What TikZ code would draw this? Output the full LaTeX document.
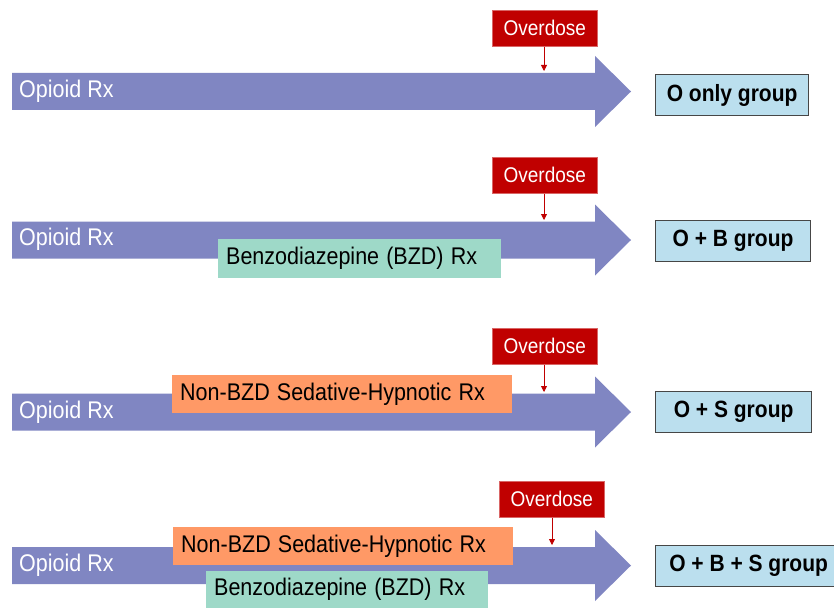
\documentclass[tikz,border=0pt]{standalone}
\usepackage{fontspec}
\setmainfont{Liberation Sans}
\usetikzlibrary{arrows.meta}
\definecolor{opioid}{RGB}{128,134,194}
\definecolor{odred}{RGB}{192,0,0}
\definecolor{bzd}{RGB}{158,217,200}
\definecolor{sed}{RGB}{255,153,102}
\definecolor{grp}{RGB}{187,223,238}
\definecolor{grpline}{RGB}{70,70,70}
\newcommand{\tall}[1]{\scalebox{1}[1.12]{#1}}
\tikzset{
  opbody/.style={fill=opioid},
  optext/.style={text=white, font=\fontsize{21.5}{24}\selectfont, anchor=west, inner sep=0pt},
  odbox/.style={fill=odred, draw=odred!60!white, line width=0.6pt, text=white, font=\fontsize{19}{22}\selectfont, minimum width=105pt, minimum height=36pt, inner sep=0pt, anchor=north west},
  odarrow/.style={draw=odred, line width=0.8pt, -{Triangle[length=6pt,width=6pt]}},
  rxbox/.style={font=\fontsize{21.5}{24}\selectfont, inner xsep=8pt, inner ysep=0pt, align=left, anchor=north west},
  bzdbox/.style={rxbox, fill=bzd},
  sedbox/.style={rxbox, fill=sed},
  grpbox/.style={fill=grp, draw=grpline, line width=1.2pt, font=\fontsize{21}{24}\selectfont\bfseries, inner sep=0pt, minimum height=41pt, anchor=north west}
}
\newcommand{\oparrow}[1]{%
  \fill[opbody] (12,#1-18.5) -- (595,#1-18.5) -- (595,#1-35.5) -- (631,#1) -- (595,#1+35.5) -- (595,#1+18.5) -- (12,#1+18.5) -- cycle;}
\begin{document}
\begin{tikzpicture}[x=1pt,y=-1pt]
\useasboundingbox (0,0) rectangle (834,607);
% Row 1
\oparrow{91.5}
\node[optext] (op1) at (19,91) {\tall{Opioid Rx}};
\node[odbox] (od1) at (492,10) {\tall{Overdose}};
\coordinate (t1) at (544,71);
\draw[odarrow] (od1.south -| t1) -- (t1);
\node[grpbox, minimum width=153pt] (g1) at (655,74) {\tall{O only group}};
% Row 2
\oparrow{240}
\node[optext] (op2) at (19,239) {\tall{Opioid Rx}};
\node[bzdbox, text width=267pt, minimum height=39pt] (b2) at (218,239) {\tall{Benzodiazepine (BZD) Rx}};
\node[odbox] (od2) at (492,157) {\tall{Overdose}};
\coordinate (t2) at (544,220);
\draw[odarrow] (od2.south -| t2) -- (t2);
\node[grpbox, minimum width=155pt] (g2) at (655,220) {\tall{O + B group}};
% Row 3
\oparrow{412}
\node[optext] (op3) at (19,412) {\tall{Opioid Rx}};
\node[sedbox, text width=324pt, minimum height=38pt] (s3) at (172,375) {\tall{Non-BZD Sedative-Hypnotic Rx}};
\node[odbox] (od3) at (492,328) {\tall{Overdose}};
\coordinate (t3) at (544,392);
\draw[odarrow] (od3.south -| t3) -- (t3);
\node[grpbox, minimum width=156pt] (g3) at (655,391) {\tall{O + S group}};
% Row 4
\oparrow{565.5}
\node[optext] (op4) at (19,565) {\tall{Opioid Rx}};
\node[sedbox, text width=324pt, minimum height=38pt] (s4) at (173,527) {\tall{Non-BZD Sedative-Hypnotic Rx}};
\node[bzdbox, text width=266pt, minimum height=37pt] (b4) at (206,571) {\tall{Benzodiazepine (BZD) Rx}};
\node[odbox] (od4) at (499,481) {\tall{Overdose}};
\coordinate (t4) at (552,545);
\draw[odarrow] (od4.south -| t4) -- (t4);
\node[grpbox, minimum width=186pt] (g4) at (655,545) {\tall{O + B + S group}};
\end{tikzpicture}
\end{document}
